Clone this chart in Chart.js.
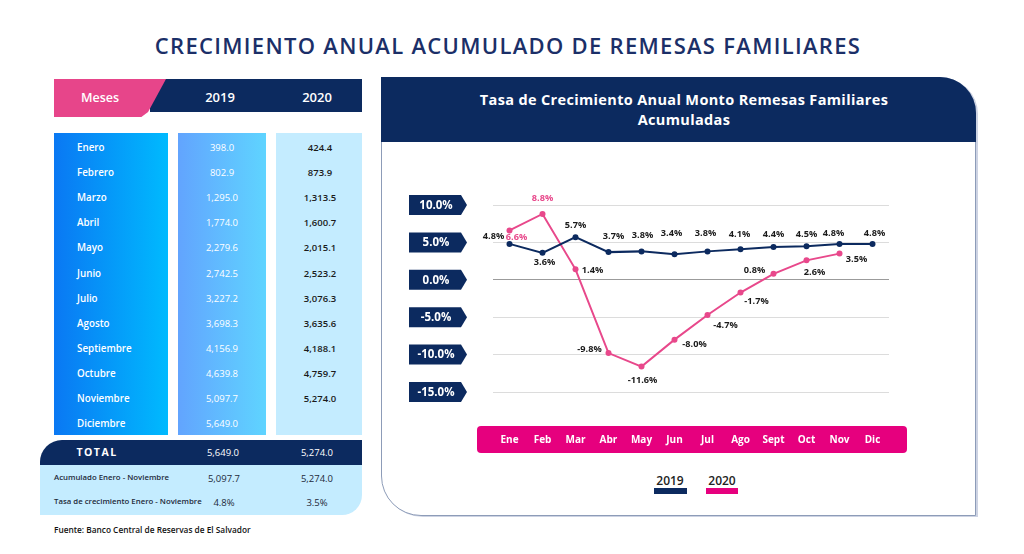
<!DOCTYPE html>
<html><head><meta charset="utf-8">
<script src="https://cdn.jsdelivr.net/npm/chart.js@4.4.1/dist/chart.umd.min.js"></script>
<style>
body{margin:0;width:1024px;height:554px;background:#fff;position:relative;overflow:hidden;font-family:'Open Sans',sans-serif;}
.a{position:absolute;white-space:nowrap}
.t{transform:translate(-50%,-50%)}
.l{transform:translateY(-50%)}
</style></head><body>
<div id="root"></div>
<script>
// ---- data ----
const monthNames = ['Enero','Febrero','Marzo','Abril','Mayo','Junio','Julio','Agosto','Septiembre','Octubre','Noviembre','Diciembre'];
const acum2019 = [398.0, 802.9, 1295.0, 1774.0, 2279.6, 2742.5, 3227.2, 3698.3, 4156.9, 4639.8, 5097.7, 5649.0];
const acum2020 = [424.4, 873.9, 1313.5, 1600.7, 2015.1, 2523.2, 3076.3, 3635.6, 4188.1, 4759.7, 5274.0];
const totals = [5649.0, 5274.0];
const acumEneNov = [5097.7, 5274.0];
const tasaEneNov = [4.8, 3.5];
const monthAbbr = ['Ene','Feb','Mar','Abr','May','Jun','Jul','Ago','Sept','Oct','Nov','Dic'];
const growth2019 = [4.8, 3.6, 5.7, 3.7, 3.8, 3.4, 3.8, 4.1, 4.4, 4.5, 4.8, 4.8];
const growth2020 = [6.6, 8.8, 1.4, -9.8, -11.6, -8.0, -4.7, -1.7, 0.8, 2.6, 3.5, null];
const seriesNames = ['2019', '2020'];
const yTickValues = [10, 5, 0, -5, -10, -15];

// ---- label placement (style config) ----
const labelOffset2019 = [[-16,-8],[2,10],[0,-12],[5,-16],[1,-16],[-3,-21],[-2,-18],[-1,-15],[0,-13],[0,-12],[-6,-11],[2,-11]];
const labelOffset2020 = [[7,7],[0,-16],[17,1],[-19,-4],[1,14],[20,5],[18,10],[16,9],[-19,-3],[8,12],[17,6]];

const NAVY = '#0c2a5f', PINK_LINE = '#e8488b', PINK = '#e6007e';
const fmt = v => v.toLocaleString('en-US',{minimumFractionDigits:1,maximumFractionDigits:1});
const pct = v => v.toFixed(1) + '%';

const root = document.getElementById('root');
function el(html){ root.insertAdjacentHTML('beforeend', html); }

// Title
el(`<div class="a t" style="left:508px;top:45px;font-size:22px;font-weight:600;color:#1b2f68;letter-spacing:1.3px">CRECIMIENTO ANUAL ACUMULADO DE REMESAS FAMILIARES</div>`);

// Table header
el(`<div class="a" style="left:150px;top:79px;width:212px;height:33px;background:${NAVY}"></div>`);
el(`<div class="a" style="left:54px;top:79px;width:112px;height:38px;background:#e7458a;clip-path:polygon(0 0,100% 0,84% 87%,78% 100%,0 100%);"></div>`);
el(`<div class="a t" style="left:100px;top:97px;color:#fff;font-size:12.5px;font-weight:600">Meses</div>`);
el(`<div class="a t" style="left:220px;top:97px;color:#fff;font-size:13px;font-weight:600">${seriesNames[0]}</div>`);
el(`<div class="a t" style="left:317px;top:97px;color:#fff;font-size:13px;font-weight:600">${seriesNames[1]}</div>`);

// Columns
el(`<div class="a" style="left:54px;top:133px;width:114px;height:302px;background:linear-gradient(to right,#0a78f3,#00bafe)"></div>`);
el(`<div class="a" style="left:178px;top:133px;width:88px;height:302px;background:linear-gradient(to right,#62a4fe,#5fd4ff)"></div>`);
el(`<div class="a" style="left:276px;top:133px;width:86px;height:302px;background:#c4ecff"></div>`);
monthNames.forEach((m,i)=>{
  const y = 147 + i*25.1;
  el(`<div class="a l" style="left:77px;top:${y}px;color:#fff;font-size:9.8px;font-weight:600">${m}</div>`);
  el(`<div class="a t" style="left:222px;top:${y}px;color:#fff;font-size:9.5px;font-weight:400">${fmt(acum2019[i])}</div>`);
  if (acum2020[i] !== undefined)
    el(`<div class="a t" style="left:320px;top:${y}px;color:#1a1a1a;font-size:9.5px;font-weight:600">${fmt(acum2020[i])}</div>`);
});

// Totals
el(`<div class="a" style="left:40px;top:440px;width:322px;height:25px;background:${NAVY};border-top-left-radius:22px"></div>`);
el(`<div class="a" style="left:40px;top:465px;width:322px;height:50px;background:#c4ecff;border-bottom-right-radius:20px"></div>`);
el(`<div class="a t" style="left:97px;top:452px;color:#fff;font-size:10.5px;font-weight:700;letter-spacing:1.5px">TOTAL</div>`);
el(`<div class="a t" style="left:223px;top:452px;color:#fff;font-size:9.5px">${fmt(totals[0])}</div>`);
el(`<div class="a t" style="left:317px;top:452px;color:#fff;font-size:9.5px">${fmt(totals[1])}</div>`);
el(`<div class="a l" style="left:54px;top:477px;color:#1e2a3a;font-size:7.8px;font-weight:600">Acumulado Enero - Noviembre</div>`);
el(`<div class="a t" style="left:224px;top:478px;color:#1e2a3a;font-size:9.5px">${fmt(acumEneNov[0])}</div>`);
el(`<div class="a t" style="left:317px;top:478px;color:#1e2a3a;font-size:9.5px">${fmt(acumEneNov[1])}</div>`);
el(`<div class="a l" style="left:54px;top:501px;color:#1e2a3a;font-size:7.8px;font-weight:600">Tasa de crecimiento Enero - Noviembre</div>`);
el(`<div class="a t" style="left:224px;top:502px;color:#1e2a3a;font-size:9.5px">${pct(tasaEneNov[0])}</div>`);
el(`<div class="a t" style="left:317px;top:502px;color:#1e2a3a;font-size:9.5px">${pct(tasaEneNov[1])}</div>`);
el(`<div class="a l" style="left:54px;top:529px;color:#111;font-size:8.3px;font-weight:600">Fuente: Banco Central de Reservas de El Salvador</div>`);

// Right panel
el(`<div class="a" style="left:381px;top:77px;width:593px;height:437px;border:1px solid #8d9cb8;border-top-right-radius:36px;border-bottom-left-radius:40px;box-shadow:2px 1px 0 #cdd3e3;background:#fff"></div>`);
el(`<div class="a" style="left:381px;top:77px;width:595px;height:65px;background:${NAVY};border-top-right-radius:36px"></div>`);
el(`<div class="a t" style="left:684px;top:99px;color:#fff;font-size:14.5px;font-weight:700;letter-spacing:0.35px">Tasa de Crecimiento Anual Monto Remesas Familiares</div>`);
el(`<div class="a t" style="left:684px;top:119px;color:#fff;font-size:14.5px;font-weight:700;letter-spacing:0.35px">Acumuladas</div>`);
el(`<div class="a" style="left:477px;top:426px;width:430px;height:27px;background:${PINK};border-radius:4px"></div>`);
el(`<canvas id="c" width="594" height="320" class="a" style="left:381px;top:142px"></canvas>`);

// Legend
el(`<div class="a t" style="left:670px;top:480px;color:#222;font-size:12px;font-weight:600">${seriesNames[0]}</div>`);
el(`<div class="a" style="left:654px;top:488px;width:33px;height:6px;background:${NAVY}"></div>`);
el(`<div class="a t" style="left:722px;top:480px;color:#222;font-size:12px;font-weight:600">${seriesNames[1]}</div>`);
el(`<div class="a" style="left:706px;top:488px;width:32px;height:6px;background:${PINK}"></div>`);

const decor = {
  id: 'decor',
  afterDraw(chart){
    const ctx = chart.ctx, ys = chart.scales.y, xs = chart.scales.x, ca = chart.chartArea;
    ctx.save();
    // y badges
    yTickValues.forEach(v=>{
      const y = ys.getPixelForValue(v);
      const L = ca.left - 84, R = ca.left - 32, T = ca.left - 26;
      ctx.fillStyle = NAVY;
      ctx.beginPath();
      ctx.moveTo(L, y-10); ctx.lineTo(R, y-10); ctx.lineTo(T, y); ctx.lineTo(R, y+10); ctx.lineTo(L, y+10);
      ctx.closePath(); ctx.fill();
      ctx.fillStyle = '#fff';
      ctx.font = '700 11.5px "Open Sans"';
      ctx.textAlign = 'center'; ctx.textBaseline = 'middle';
      ctx.fillText(pct(v), (L+R)/2 + 1, y + 0.5);
    });
    // x labels inside pink bar
    ctx.fillStyle = '#fff';
    ctx.font = '700 10px "Open Sans"';
    monthAbbr.forEach((m,i)=>{
      ctx.fillText(m, xs.getPixelForValue(i), 298);
    });
    // data labels
    ctx.font = '700 9.2px "Open Sans"';
    const sets = [[growth2019, labelOffset2019, 0], [growth2020, labelOffset2020, 1]];
    sets.forEach(([vals, offs, di])=>{
      const meta = chart.getDatasetMeta(di);
      vals.forEach((v,i)=>{
        if (v === null || !offs[i]) return;
        const p = meta.data[i];
        ctx.fillStyle = (di === 1 && i < 2) ? PINK_LINE : '#1a1a1a';
        ctx.fillText(pct(v), p.x + offs[i][0], p.y + offs[i][1]);
      });
    });
    ctx.restore();
  }
};

new Chart(document.getElementById('c'), {
  type: 'line',
  data: {
    labels: monthAbbr,
    datasets: [
      { label: seriesNames[0], data: growth2019, borderColor: NAVY, backgroundColor: NAVY, borderWidth: 2, pointRadius: 3, pointBackgroundColor: NAVY, pointBorderWidth: 0, tension: 0 },
      { label: seriesNames[1], data: growth2020, borderColor: PINK_LINE, backgroundColor: PINK_LINE, borderWidth: 2, pointRadius: 3, pointBackgroundColor: PINK_LINE, pointBorderWidth: 0, tension: 0 }
    ]
  },
  options: {
    responsive: false, animation: false, clip: false,
    layout: { padding: { left: 112, right: 86, top: 63, bottom: 70 } },
    plugins: { legend: { display: false }, tooltip: { enabled: false } },
    scales: {
      x: { display: false, offset: true },
      y: {
        min: -15, max: 10,
        ticks: { display: false, stepSize: 5 },
        border: { display: false },
        grid: { drawTicks: false, lineWidth: 1, color: c => c.tick && c.tick.value === 0 ? '#9b9b9b' : '#dcdcdc' }
      }
    }
  },
  plugins: [decor]
});
</script>
</body></html>
